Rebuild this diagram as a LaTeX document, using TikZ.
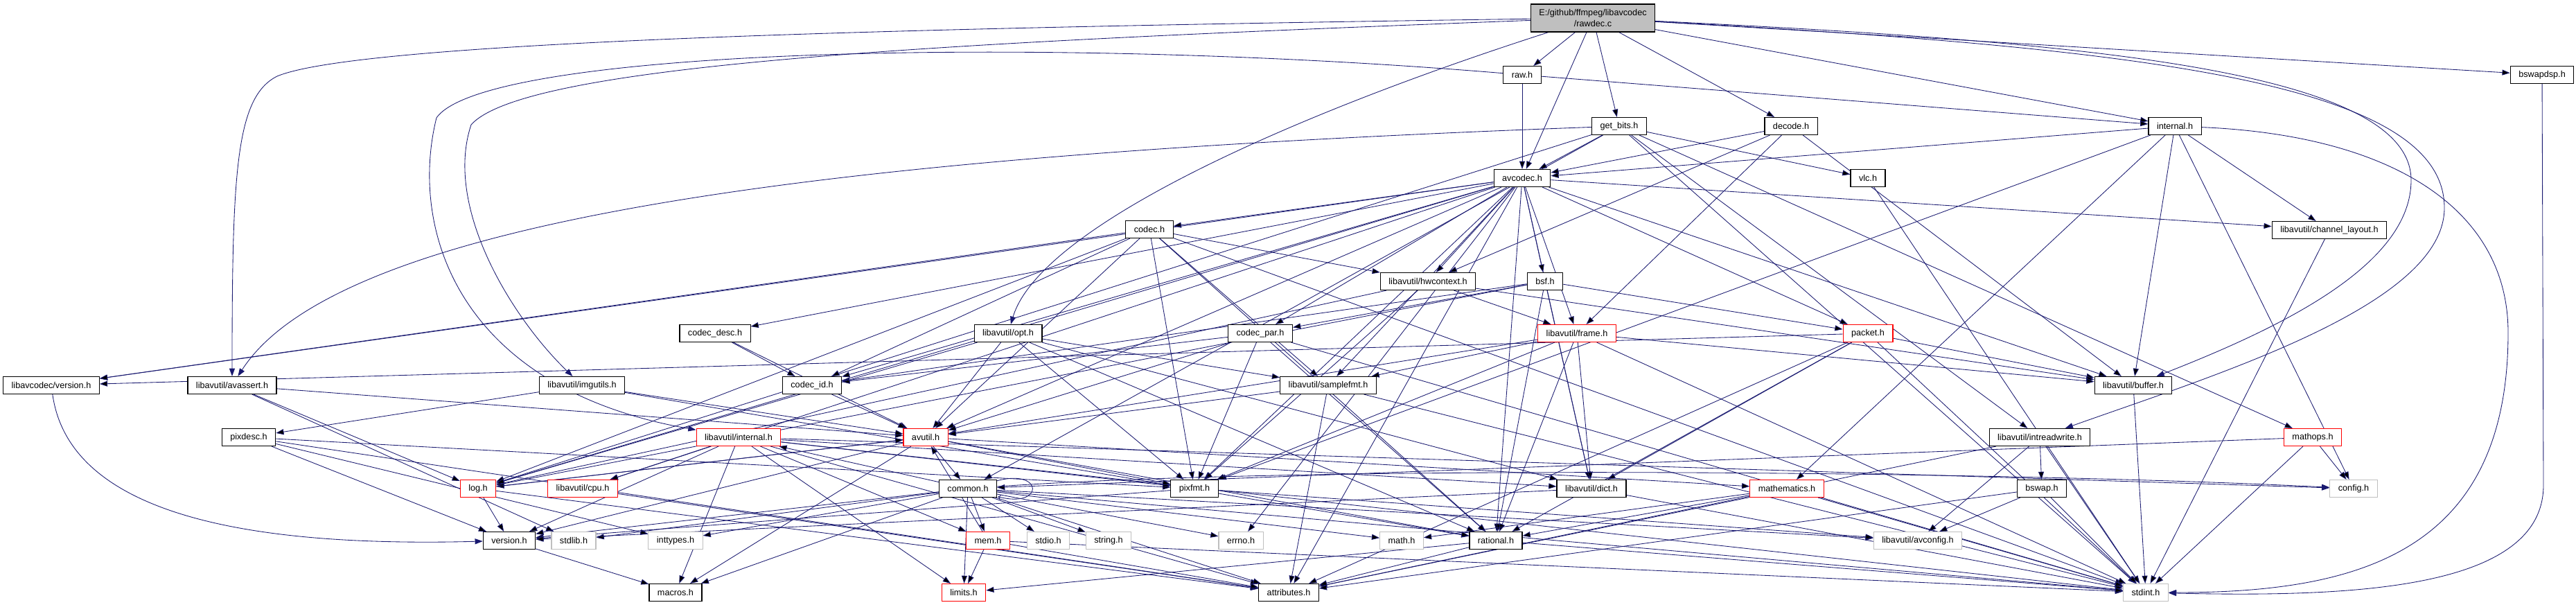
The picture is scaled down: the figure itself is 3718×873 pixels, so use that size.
\documentclass[tikz,border=0pt]{standalone}
\usepackage{fontspec}
\setmainfont{Liberation Sans}
\usepackage{tikz}
\usetikzlibrary{arrows.meta,backgrounds}
\usepackage{xcolor}
\definecolor{dxEdge}{HTML}{191970}
\definecolor{dxRoot}{HTML}{BFBFBF}
\definecolor{dxGray}{HTML}{BFBFBF}
\definecolor{dxRed}{HTML}{FF0000}

\begin{document}
\begin{tikzpicture}[x=0.025cm,y=-0.025cm,
      hdr/.style={draw=black,line width=0.8pt,fill=white,font=\fontsize{9}{10.7}\selectfont,
                  inner xsep=0.3cm,inner ysep=0pt,minimum height=0.625cm},
      trunc/.style={hdr,draw=dxRed},
      sysh/.style={hdr,draw=dxGray},
      rootbox/.style={hdr,fill=dxRoot,align=center,minimum height=1cm},
      dep/.style={draw=dxEdge,line width=0.6pt,-{Triangle[length=0.28cm,width=0.2cm]}}]
    \useasboundingbox (0,0) rectangle (3718,873);
    % row 0 - 2
    \node[rootbox] (root) at (2299,26) {E:/github/ffmpeg/libavcodec\\/rawdec.c};
    \node[hdr] (raw)      at (2197,108) {raw.h};
    \node[hdr] (bswapdsp) at (3669,108) {bswapdsp.h};
    \node[hdr] (getbits)  at (2337,182) {get\_bits.h};
    \node[hdr] (decode)   at (2585,182) {decode.h};
    \node[hdr] (internal) at (3139,182) {internal.h};
    \node[hdr] (avcodec)  at (2197,257) {avcodec.h};
    \node[hdr] (vlc)      at (2696,257) {vlc.h};
    % row 3 - 4
    \node[hdr] (codec)    at (1659,331) {codec.h};
    \node[hdr] (chlayout) at (3362,332) {libavutil/channel\_layout.h};
    \node[hdr] (hwctx)    at (2061,406) {libavutil/hwcontext.h};
    \node[hdr] (bsf)      at (2230,406) {bsf.h};
    % row 5
    \node[hdr]   (codecdesc) at (1032,481) {codec\_desc.h};
    \node[hdr]   (opt)       at (1455,481) {libavutil/opt.h};
    \node[hdr]   (codecpar)  at (1819,481) {codec\_par.h};
    \node[trunc] (frame)     at (2276,481) {libavutil/frame.h};
    \node[trunc] (packet)    at (2696,481) {packet.h};
    % row 6
    \node[hdr] (lavcver)   at (74,556)   {libavcodec/version.h};
    \node[hdr] (avassert)  at (335,556)  {libavutil/avassert.h};
    \node[hdr] (imgutils)  at (840,556)  {libavutil/imgutils.h};
    \node[hdr] (codecid)   at (1172,556) {codec\_id.h};
    \node[hdr] (samplefmt) at (1917,556) {libavutil/samplefmt.h};
    \node[hdr] (buffer)    at (3079,556) {libavutil/buffer.h};
    % row 7
    \node[hdr]   (pixdesc)    at (359,631)  {pixdesc.h};
    \node[trunc] (luinternal) at (1066,631) {libavutil/internal.h};
    \node[trunc] (avutil)     at (1336,631) {avutil.h};
    \node[hdr]   (intrw)      at (2944,631) {libavutil/intreadwrite.h};
    \node[trunc] (mathops)    at (3338,631) {mathops.h};
    % row 8
    \node[trunc] (logh)        at (690,705)  {log.h};
    \node[trunc] (cpu)         at (841,705)  {libavutil/cpu.h};
    \node[hdr]   (common)      at (1397,705) {common.h};
    \node[hdr]   (pixfmt)      at (1724,705) {pixfmt.h};
    \node[hdr]   (dict)        at (2297,705) {libavutil/dict.h};
    \node[trunc] (mathematics) at (2579,705) {mathematics.h};
    \node[hdr]   (bswap)       at (2947,705) {bswap.h};
    \node[sysh]  (config)      at (3397,705) {config.h};
    % row 9
    \node[hdr]   (version)  at (735,780)  {version.h};
    \node[sysh]  (stdlibh)  at (828,780)  {stdlib.h};
    \node[sysh]  (inttypes) at (975,780)  {inttypes.h};
    \node[trunc] (mem)      at (1426,780) {mem.h};
    \node[sysh]  (stdioh)   at (1513,780) {stdio.h};
    \node[sysh]  (stringh)  at (1600,780) {string.h};
    \node[sysh]  (errnoh)   at (1791,780) {errno.h};
    \node[sysh]  (mathh)    at (2023,780) {math.h};
    \node[hdr]   (rational) at (2159,780) {rational.h};
    \node[sysh]  (avconfig) at (2768,780) {libavutil/avconfig.h};
    % row 10
    \node[hdr]   (macros)     at (975,855)  {macros.h};
    \node[trunc] (limits)     at (1391,855) {limits.h};
    \node[hdr]   (attributes) at (1860,855) {attributes.h};
    \node[sysh]  (stdint)     at (3097,855) {stdint.h};

    \begin{scope}[on background layer]
    \fill[white] (0,0) rectangle (3718,873);
    % includes of rawdec.c
    \path[dep] (root) edge (raw) edge (avcodec) edge (getbits) edge (decode) edge (internal) edge (bswapdsp);
    \draw[dep] (root) .. controls (1300,40) and (520,60) .. (400,110) .. controls (340,140) and (335,250) .. (avassert);
    \draw[dep] (root) .. controls (1400,60) and (760,90) .. (680,180) .. controls (640,300) and (740,460) .. (imgutils);
    \draw[dep] (root) .. controls (1850,170) and (1500,330) .. (opt);
    \draw[dep] (root) .. controls (3000,60) and (3480,100) .. (3480,260) .. controls (3480,380) and (3300,470) .. (buffer);
    \draw[dep] (root) .. controls (3100,70) and (3528,120) .. (3528,300) .. controls (3528,440) and (3200,540) .. (intrw);
    % libavcodec headers
    \path[dep] (raw) edge (avcodec) edge (internal);
    \draw[dep] (raw) .. controls (1500,50) and (700,70) .. (630,170) .. controls (590,330) and (660,560) .. (luinternal);
    \path[dep] (getbits) edge (avcodec) edge (vlc) edge (mathops) edge (intrw) edge (stdint) edge (common) edge (logh);
    \draw[dep] (getbits) .. controls (1300,220) and (500,300) .. (avassert);
    \path[dep] (decode) edge (avcodec) edge (hwctx) edge (buffer) edge (frame);
    \path[dep] (internal) edge (avcodec) edge (chlayout) edge (buffer) edge (mathematics) edge (pixfmt) edge (config);
    \draw[dep] (internal) .. controls (3450,195) and (3620,300) .. (3620,480) .. controls (3620,800) and (3400,855) .. (stdint);
    \draw[dep] (bswapdsp) -- (3671,700) .. controls (3671,850) and (3400,862) .. (stdint);
    \path[dep] (avcodec) edge (errnoh) edge (samplefmt) edge (attributes) edge (avutil) edge (buffer)
      edge (cpu) edge (chlayout) edge (dict) edge (frame) edge (hwctx) edge (logh) edge (pixfmt)
      edge (rational) edge (bsf) edge (codec) edge (codecdesc) edge (codecpar) edge (codecid)
      edge (packet) edge (lavcver);
    \path[dep] (codec) edge (stdint) edge (avutil) edge (hwctx) edge (logh) edge (pixfmt) edge (rational)
      edge (samplefmt) edge (codecid) edge (lavcver);
    \path[dep] (bsf) edge (dict) edge (logh) edge (rational) edge (codecid) edge (codecpar) edge (packet);
    \path[dep] (codecdesc) edge (avutil) edge (codecid);
    \path[dep] (codecpar) edge (stdint) edge (avutil) edge (rational) edge (pixfmt) edge (codecid);
    \path[dep] (codecid) edge (avutil);
    \path[dep] (packet) edge (stdint) edge (attributes) edge (buffer) edge (dict) edge (rational) edge (lavcver);
    \draw[dep] (lavcver) .. controls (100,740) and (350,790) .. (version);
    \path[dep] (mathops) edge (config) edge (common) edge (stdint);
    \path[dep] (vlc) edge (stdint);
    % libavutil headers
    \path[dep] (hwctx) edge (buffer) edge (frame) edge (logh) edge (pixfmt);
    \path[dep] (opt) edge (rational) edge (avutil) edge (dict) edge (logh) edge (pixfmt) edge (samplefmt);
    \path[dep] (frame) edge (stdint) edge (avutil) edge (buffer) edge (dict) edge (rational) edge (samplefmt) edge (pixfmt);
    \path[dep] (avassert) edge (stdlibh) edge (avutil) edge (logh);
    \path[dep] (imgutils) edge (avutil) edge (pixdesc) edge (rational);
    \path[dep] (samplefmt) edge (stdint) edge (avutil) edge (attributes);
    \path[dep] (buffer) edge (stdint);
    \path[dep] (chlayout) edge (stdint);
    \path[dep] (pixdesc) edge (inttypes) edge (attributes) edge (pixfmt) edge (version);
    \path[dep] (luinternal) edge (limits) edge (stdint) edge (config) edge (attributes) edge (cpu)
      edge (dict) edge (macros) edge (mem) edge (pixfmt) edge (version);
    \path[dep] (avutil) edge (common) edge (macros) edge (mathematics) edge (rational) edge (version)
      edge (logh) edge (pixfmt);
    \path[dep] (intrw) edge (stdint) edge (avconfig) edge (attributes) edge (bswap);
    \path[dep] (logh) edge (avutil) edge (attributes) edge (version);
    \path[dep] (cpu) edge (attributes);
    \path[dep] (common) edge (errnoh) edge (inttypes) edge (limits) edge (mathh) edge (stdint) edge (stdioh)
      edge (stdlibh) edge (stringh) edge (attributes) edge (macros) edge (version) edge (avconfig)
      edge (mem) edge (luinternal);
    \path[dep] (common) edge[loop right] ();
    \draw[dep] (common) .. controls (1900,670) and (2900,680) .. (config);
    \path[dep] (pixfmt) edge (avconfig) edge (version);
    \path[dep] (dict) edge (stdint) edge (version);
    \path[dep] (mathematics) edge (stdint) edge (mathh) edge (attributes) edge (rational);
    \path[dep] (bswap) edge (stdint) edge (avconfig) edge (attributes);
    \path[dep] (version) edge (macros);
    \path[dep] (mem) edge (limits) edge (stdint) edge (attributes) edge (avutil);
    \path[dep] (rational) edge (stdint) edge (limits) edge (attributes);
    \end{scope}
  \end{tikzpicture}
\end{document}
